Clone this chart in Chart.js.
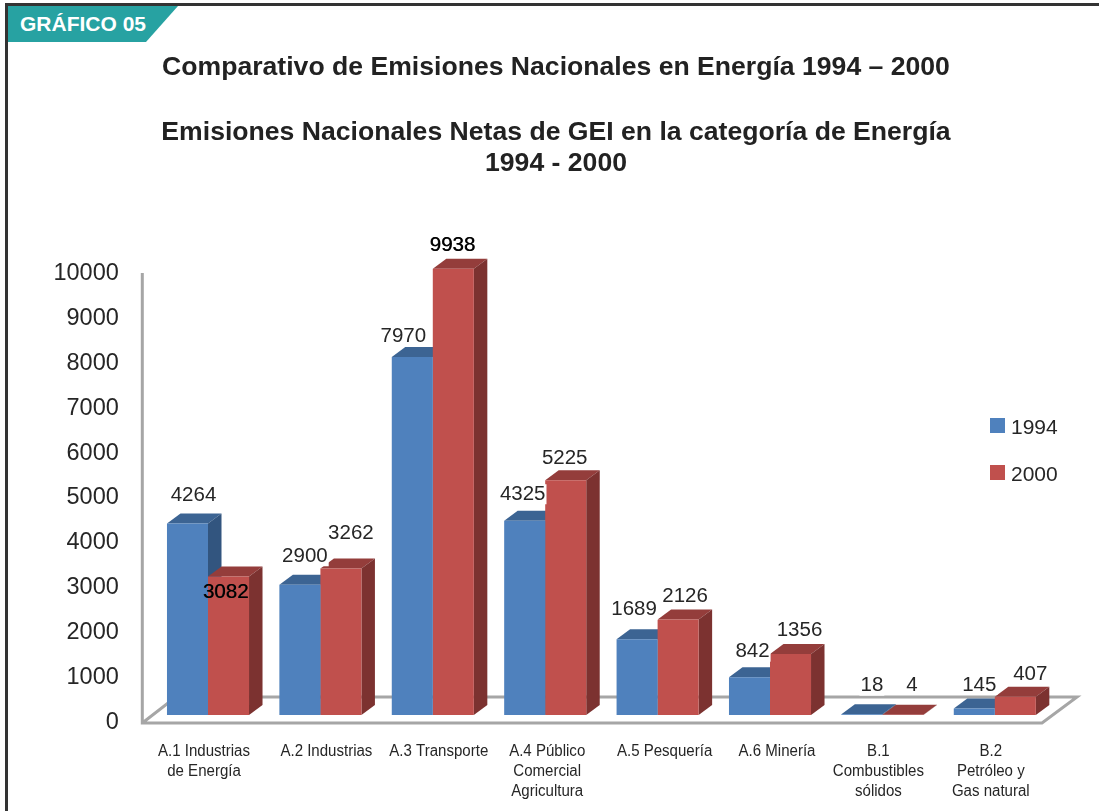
<!DOCTYPE html>
<html>
<head>
<meta charset="utf-8">
<title>Comparativo de Emisiones Nacionales en Energía</title>
<script src="https://cdn.jsdelivr.net/npm/chart.js@4"></script>
<style>
  html, body { margin: 0; background: #fff; overflow: hidden; }
  #page { position: relative; width: 1099px; height: 811px; }
  #frame { position: absolute; left: 5px; top: 3px; right: 0; bottom: 0; border-left: 3px solid #333; border-top: 3px solid #333; }
  #tag {
    position: absolute; left: 8px; top: 6px; width: 170px; height: 36px; box-sizing: border-box;
    padding-left: 12px; background: #27a2a2; color: #fff;
    font: bold 21px/36px "Liberation Sans", Arial, sans-serif;
    clip-path: polygon(0 0, 100% 0, 138px 100%, 0 100%);
  }
  canvas { position: absolute; left: 0; top: 0; }
</style>
</head>
<body>
<div id="page">
  <div id="frame"></div>
  <div id="tag">GRÁFICO 05</div>
  <canvas id="chart" width="1099" height="811"></canvas>
</div>
<script>
const categories = [
  ['A.1 Industrias', 'de Energía'],
  ['A.2 Industrias'],
  ['A.3 Transporte'],
  ['A.4 Público', 'Comercial', 'Agricultura'],
  ['A.5 Pesquería'],
  ['A.6 Minería'],
  ['B.1', 'Combustibles', 'sólidos'],
  ['B.2', 'Petróleo y', 'Gas natural']
]
const values1994 = [4264, 2900, 7970, 4325, 1689, 842, 18, 145]
const values2000 = [3082, 3262, 9938, 5225, 2126, 1356, 4, 407]
const yTicks = [0, 1000, 2000, 3000, 4000, 5000, 6000, 7000, 8000, 9000, 10000]

// hand placed labels in the original, so each one gets its own nudge from the bar top
const nudge1994 = [[6, -28.5], [5, -28.5], [-9, -20.5], [-2, -26.5], [-3, -29.5], [3, -25.5], [10, -28.5], [5, -23.5]]
const nudge2000 = [[-3, 15.5], [10, -35.5], [-1, -23.5], [-1, -22.5], [7, -23.5], [9, -23.5], [9, -29.5], [15, -22.5]]
const categoryNudge = [-4, 6, 6, 2, 7, 7, -4, -4]

const FONT = '"Liberation Sans", Arial, sans-serif'
const DEPTH_X = 13.5
const DEPTH_Y = 10

const faceColors = [
  { top: '#3c6493', side: '#32557f' },
  { top: '#943d3b', side: '#7c3230' }
]

function poly (ctx, points, color) {
  ctx.fillStyle = color
  ctx.beginPath()
  points.forEach((p, i) => i ? ctx.lineTo(p[0], p[1]) : ctx.moveTo(p[0], p[1]))
  ctx.closePath()
  ctx.fill()
}

// floor, wall line and the top/side faces, the fronts come from the bars themselves
const boxes3d = {
  id: 'boxes3d',
  beforeDraw (chart) {
    // labels get clipped to the axis box, 10000 needs more room than the layout gives it
    chart.scales.y.left = 30
  },
  beforeDatasetsDraw (chart) {
    const { ctx, chartArea: area } = chart
    const y0 = area.bottom
    ctx.save()
    ctx.strokeStyle = '#a6a6a6'
    ctx.lineWidth = 3
    ctx.beginPath()
    ctx.moveTo(area.left - 9.5, area.top + 7)
    ctx.lineTo(area.left - 9.5, y0 + 8)
    ctx.lineTo(area.right - 9, y0 + 8)
    ctx.lineTo(area.right + 26, y0 - 18)
    ctx.lineTo(area.left + 24, y0 - 18)
    ctx.lineTo(area.left - 9.5, y0 + 8)
    ctx.stroke()

    chart.data.datasets.forEach((ds, d) => {
      chart.getDatasetMeta(d).data.forEach(bar => {
        const l = bar.x - bar.width / 2
        const r = bar.x + bar.width / 2
        const t = bar.y
        poly(ctx, [[l, t], [r, t], [r + DEPTH_X, t - DEPTH_Y], [l + DEPTH_X, t - DEPTH_Y]], faceColors[d].top)
        poly(ctx, [[r, t], [r + DEPTH_X, t - DEPTH_Y], [r + DEPTH_X, y0 - DEPTH_Y], [r, y0]], faceColors[d].side)
      })
    })
    ctx.restore()
  },
  afterDatasetsDraw (chart) {
    const { ctx, chartArea: area } = chart
    const nudges = [nudge1994, nudge2000]
    ctx.save()
    ctx.textAlign = 'center'
    ctx.textBaseline = 'middle'

    // value labels
    ctx.font = '20.5px ' + FONT
    chart.data.datasets.forEach((ds, d) => {
      chart.getDatasetMeta(d).data.forEach((bar, i) => {
        const x = bar.x + nudges[d][i][0]
        const y = bar.y + nudges[d][i][1]
        const text = String(ds.data[i])
        if (d === 0) {
          // the 1994 labels sit on white patches in the original
          const w = ctx.measureText(text).width
          ctx.fillStyle = '#fff'
          ctx.fillRect(x - w / 2 - 1, y - 10, w + 2, 20)
        }
      })
    })
    chart.data.datasets.forEach((ds, d) => {
      chart.getDatasetMeta(d).data.forEach((bar, i) => {
        const x = bar.x + nudges[d][i][0]
        const y = bar.y + nudges[d][i][1]
        ctx.fillStyle = '#262626'
        ctx.fillText(String(ds.data[i]), x, y)
        // these two look double struck
        if (ds.data[i] === 3082 || ds.data[i] === 9938) {
          ctx.fillStyle = '#000'
          ctx.fillText(String(ds.data[i]), x + 0.5, y)
        }
      })
    })

    // category labels, a bit condensed like the original
    const xScale = chart.scales.x
    ctx.font = '16px ' + FONT
    ctx.fillStyle = '#262626'
    categories.forEach((lines, i) => {
      const cx = xScale.getPixelForTick(i) + categoryNudge[i]
      lines.forEach((line, n) => {
        ctx.save()
        ctx.translate(cx, area.bottom + 37 + n * 19.7)
        ctx.scale(0.94, 1)
        ctx.fillText(line, 0, 0)
        ctx.restore()
      })
    })

    // legend
    chart.data.datasets.forEach((ds, d) => {
      const top = 418 + d * 47
      ctx.fillStyle = ds.backgroundColor
      ctx.fillRect(990, top, 15, 15)
      ctx.fillStyle = '#262626'
      ctx.font = '21px ' + FONT
      ctx.textAlign = 'left'
      ctx.fillText(ds.label, 1011, top + 10)
    })
    ctx.restore()
  }
}

new Chart(document.getElementById('chart'), {
  type: 'bar',
  data: {
    labels: categories,
    datasets: [
      { label: '1994', data: values1994, backgroundColor: '#4f81bd', order: 1 },
      { label: '2000', data: values2000, backgroundColor: '#c0504d', order: 2 }
    ]
  },
  plugins: [boxes3d],
  options: {
    responsive: false,
    animation: false,
    devicePixelRatio: 1,
    layout: { padding: { left: 61, right: 48, top: 52, bottom: 88 } },
    datasets: { bar: { categoryPercentage: 0.73, barPercentage: 1, borderWidth: 0 } },
    plugins: {
      legend: { display: false },
      tooltip: { enabled: false },
      title: {
        display: true,
        text: 'Comparativo de Emisiones Nacionales en Energía 1994 – 2000',
        color: '#222',
        font: { family: FONT, size: 26.6, weight: 'bold', lineHeight: 1.2 },
        padding: { top: 0, bottom: 33.5 }
      },
      subtitle: {
        display: true,
        text: ['Emisiones Nacionales Netas de GEI en la categoría de Energía', '1994 - 2000'],
        color: '#222',
        font: { family: FONT, size: 26.6, weight: 'bold', lineHeight: 1.165 },
        padding: { top: 0, bottom: 86.5 }
      }
    },
    scales: {
      x: {
        grid: { display: false },
        border: { display: false },
        ticks: { display: false }
      },
      y: {
        min: 0,
        max: 10000,
        afterBuildTicks (scale) { scale.ticks = yTicks.map(value => ({ value })) },
        afterFit (scale) { scale.width = 90.8 },
        grid: { display: false, drawTicks: false },
        border: { display: false },
        ticks: {
          color: '#262626',
          padding: 33,
          labelOffset: 7.5,
          font: { family: FONT, size: 23.5 },
          callback: value => String(value)
        }
      }
    }
  }
})
</script>
</body>
</html>
